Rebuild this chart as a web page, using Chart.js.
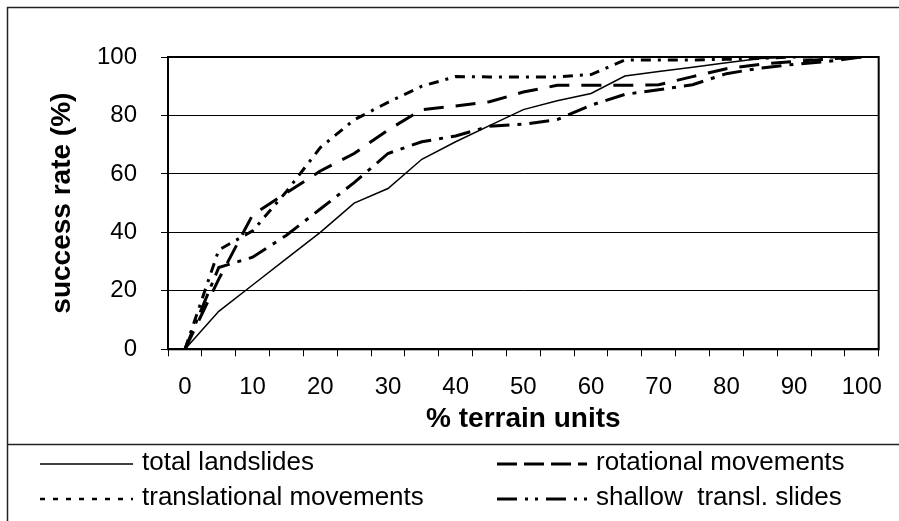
<!DOCTYPE html>
<html>
<head>
<meta charset="utf-8">
<title>success rate curves</title>
<script src="https://cdn.jsdelivr.net/npm/chart.js@4.4.1/dist/chart.umd.min.js"></script>
<style>
  html, body { margin: 0; padding: 0; background: #fff; }
  #wrap { width: 899px; height: 521px; }
</style>
</head>
<body>
<div id="wrap"><canvas id="rateChart" width="899" height="521"></canvas></div>
<script>
// % terrain units (categories), every other one is labelled
const terrainUnits = ['0', '5', '10', '15', '20', '25', '30', '35', '40', '45', '50',
  '55', '60', '65', '70', '75', '80', '85', '90', '95', '100'];

// success rate (%)
const totalLandslides = [0, 13, 22, 31, 40, 50, 55, 65, 71, 76.5, 82, 85, 87.5, 93.5, 95, 96.5, 98, 99.5, 100, 100, 100];
const rotationalMovements = [0, 24, 46, 53.5, 61, 67, 75, 82, 83.2, 84.7, 88, 90.3, 90.3, 90.3, 90.5, 93.3, 96, 97.5, 98.5, 99.3, 100];
const translationalMovements = [0, 34, 40.5, 54, 69, 78.5, 84.5, 90, 93.3, 93.2, 93.2, 93.2, 94, 99, 99, 99, 99.2, 99.5, 100, 100, 100];
const shallowTranslSlides = [0, 28, 31.5, 39, 48, 57, 67, 71, 73, 76.3, 77, 78.6, 83.5, 87.2, 88.8, 90.5, 94.3, 96.2, 97.5, 98.5, 100];

const yTicks = [0, 20, 40, 60, 80, 100];

const FONT = '"Liberation Sans", Arial, sans-serif';
Chart.defaults.font.family = FONT;
Chart.defaults.color = '#000';

// legend swatches in the box below the chart (two columns)
const legendSlots = [
  { x: 40, y: 464, len: 93, dash: [], width: 1.5 },
  { x: 497, y: 464, len: 90, dash: [20, 7], width: 3 },
  { x: 40, y: 499, len: 93, dash: [5, 8], width: 2.5 },
  { x: 497, y: 499, len: 90, dash: [20, 8, 3, 7, 3, 8], width: 3 }
];

const framePlugin = {
  id: 'frame',
  beforeDatasetsDraw(chart) {
    const { ctx, chartArea: a } = chart;
    ctx.save();
    ctx.strokeStyle = '#000';
    ctx.lineWidth = 2;
    ctx.strokeRect(a.left, a.top, a.right - a.left, a.bottom - a.top);
    ctx.restore();
  },
  afterDraw(chart) {
    const ctx = chart.ctx;
    ctx.save();
    // outer frame and legend separator
    ctx.strokeStyle = '#222';
    ctx.lineWidth = 1.5;
    ctx.beginPath();
    ctx.moveTo(7.5, 521);
    ctx.lineTo(7.5, 7.5);
    ctx.lineTo(899, 7.5);
    ctx.moveTo(7.5, 444.5);
    ctx.lineTo(899, 444.5);
    ctx.stroke();

    // legend
    chart.data.datasets.forEach((ds, i) => {
      const slot = legendSlots[i];
      ctx.strokeStyle = ds.borderColor;
      ctx.lineWidth = slot.width;
      ctx.setLineDash(slot.dash);
      ctx.beginPath();
      ctx.moveTo(slot.x, slot.y);
      ctx.lineTo(slot.x + slot.len, slot.y);
      ctx.stroke();
      ctx.setLineDash([]);
      ctx.fillStyle = '#000';
      ctx.font = '26px ' + FONT;
      ctx.textBaseline = 'middle';
      ctx.textAlign = 'left';
      ctx.fillText(ds.label, slot.x + slot.len + 9, slot.y - 1);
    });
    ctx.restore();
  }
};

new Chart(document.getElementById('rateChart'), {
  type: 'line',
  data: {
    labels: terrainUnits,
    datasets: [
      {
        label: 'total landslides',
        data: totalLandslides,
        borderColor: '#000',
        borderWidth: 1.5
      },
      {
        label: 'rotational movements',
        data: rotationalMovements,
        borderColor: '#000',
        borderWidth: 3,
        borderDash: [20, 12]
      },
      {
        label: 'translational movements',
        data: translationalMovements,
        borderColor: '#000',
        borderWidth: 3,
        borderDash: [10, 7, 3, 7]
      },
      {
        label: 'shallow  transl. slides',
        data: shallowTranslSlides,
        borderColor: '#000',
        borderWidth: 3,
        borderDash: [20, 8, 4, 8]
      }
    ]
  },
  options: {
    responsive: false,
    animation: false,
    layout: { padding: { top: 57, right: 9, bottom: 77, left: 0 } },
    elements: {
      point: { radius: 0 },
      line: { tension: 0, fill: false }
    },
    plugins: {
      legend: { display: false },
      tooltip: { enabled: false }
    },
    scales: {
      x: {
        type: 'category',
        offset: true,
        grid: {
          offset: true,
          drawOnChartArea: false,
          drawTicks: true,
          tickLength: 7,
          color: '#000',
          lineWidth: 1
        },
        border: { display: true, color: '#000', width: 2 },
        ticks: {
          autoSkip: false,
          maxRotation: 0,
          padding: 17,
          font: { size: 24 },
          callback: (v, i) => (i % 2 === 0 ? terrainUnits[i] : '')
        },
        title: {
          display: true,
          text: '% terrain units',
          font: { size: 28, weight: 'bold' },
          padding: { top: 0, bottom: 8 }
        },
        afterFit: (s) => { s.height = 94.7; }
      },
      y: {
        min: 0,
        max: 100,
        afterBuildTicks: (s) => { s.ticks = yTicks.map(v => ({ value: v })); },
        grid: { color: '#000', lineWidth: 1, tickLength: 7 },
        border: { display: true, color: '#000', width: 2 },
        ticks: { padding: 24, font: { size: 24 } },
        title: {
          display: true,
          text: 'success rate (%)',
          font: { size: 28, weight: 'bold' },
          padding: { top: 45, bottom: 0 }
        },
        afterFit: (s) => { s.width = 168; }
      }
    }
  },
  plugins: [framePlugin]
});
</script>
</body>
</html>
